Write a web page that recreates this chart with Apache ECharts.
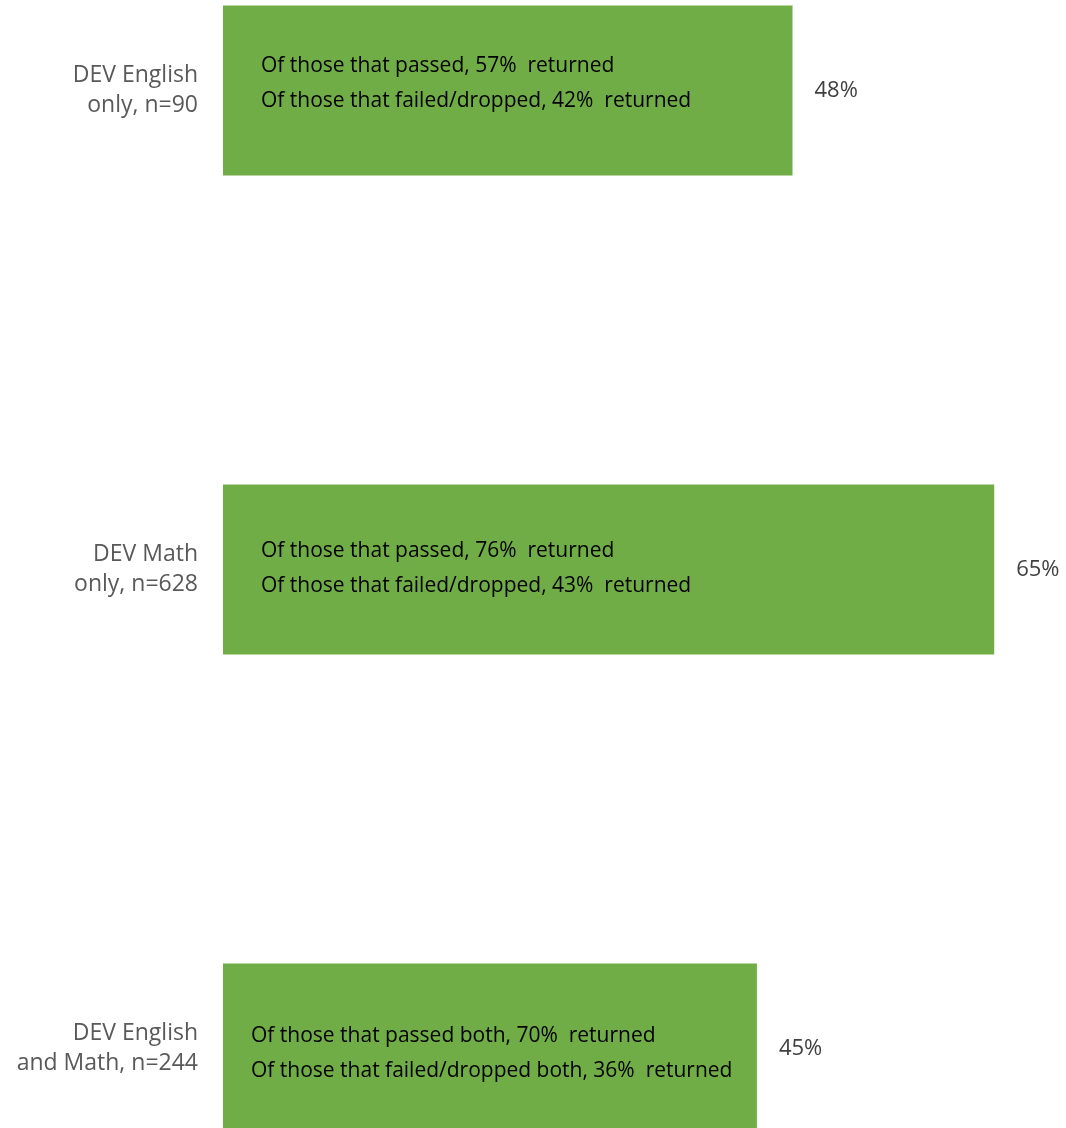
<!DOCTYPE html>
<html>
<head>
<meta charset="utf-8">
<script src="https://cdn.jsdelivr.net/npm/echarts@6/dist/echarts.min.js"></script>
<style>
  html, body { margin: 0; padding: 0; background: #fff; }
  #chart { width: 1066px; height: 1128px; }
</style>
</head>
<body>
<div id="chart"></div>
<script>
// categories, top to bottom
const categories = ['DEV English\nonly, n=90', 'DEV Math\nonly, n=628', 'DEV English\nand Math, n=244'];
// overall return rate (%)
const returned = [48, 65, 45];
// text shown inside each bar
const passedNotes = [
    'Of those that passed, 57%  returned',
    'Of those that passed, 76%  returned',
    'Of those that passed both, 70%  returned'
];
const failedNotes = [
    'Of those that failed/dropped, 42%  returned',
    'Of those that failed/dropped, 43%  returned',
    'Of those that failed/dropped both, 36%  returned'
];

const font = 'Open Sans';
// nudges for the in-bar text, per bar
const noteOffsets = [[38, -7], [38, -1], [28, 5]];

const chart = echarts.init(document.getElementById('chart'));

chart.setOption({
    animation: false,
    grid: {
        left: 223,
        width: 1018,
        top: -149,
        height: 1437,
        outerBoundsMode: 'none',
        containLabel: false
    },
    xAxis: {
        type: 'value',
        min: 0,
        max: 85.8,
        show: false
    },
    yAxis: {
        type: 'category',
        data: categories,
        inverse: true,
        axisLine: { show: false },
        axisTick: { show: false },
        axisLabel: {
            margin: 25,
            fontFamily: font,
            fontSize: 23,
            lineHeight: 30,
            color: '#595959',
            align: 'right'
        }
    },
    series: [
        {
            type: 'bar',
            data: returned,
            barWidth: 170,
            itemStyle: { color: '#70AD47' },
            label: {
                show: true,
                position: 'right',
                distance: 22,
                fontFamily: font,
                fontSize: 22,
                color: '#404040',
                formatter: p => p.value + '%'
            }
        },
        {
            type: 'bar',
            data: returned.map((v, i) => ({
                value: v,
                label: { offset: noteOffsets[i] }
            })),
            barWidth: 170,
            barGap: '-100%',
            itemStyle: { color: 'transparent' },
            silent: true,
            label: {
                show: true,
                position: 'insideLeft',
                distance: 0,
                fontFamily: font,
                fontSize: 21,
                lineHeight: 35,
                color: '#000',
                formatter: p => passedNotes[p.dataIndex] + '\n' + failedNotes[p.dataIndex]
            }
        }
    ]
});
</script>
</body>
</html>
